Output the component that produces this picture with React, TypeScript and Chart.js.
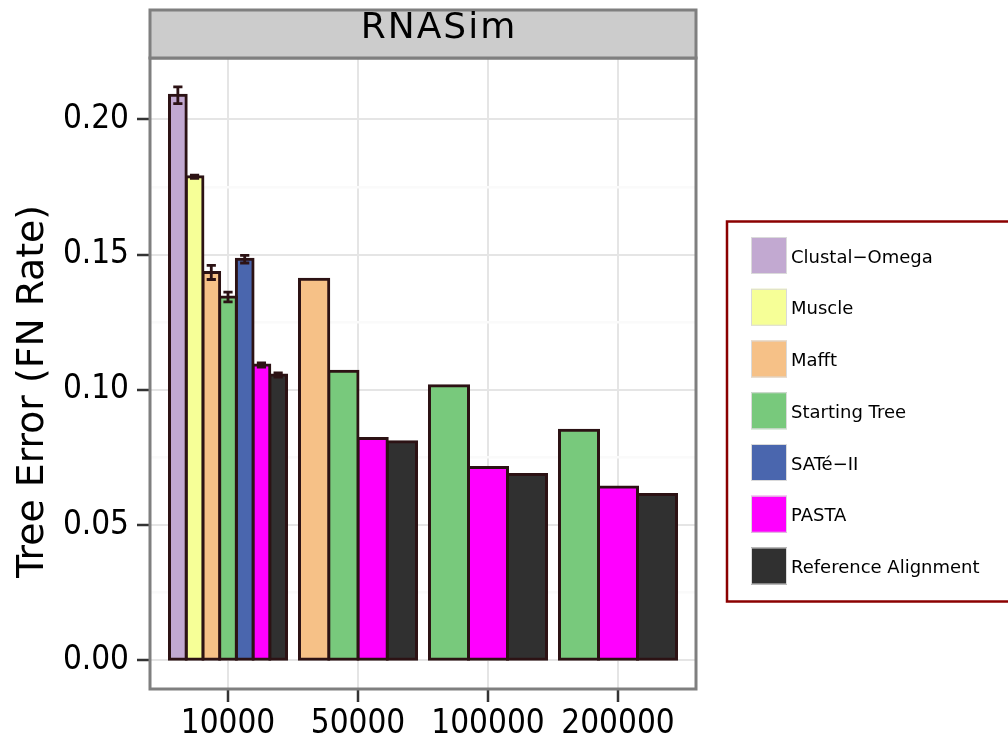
import React, { useEffect, useRef } from 'react';
import { Chart, registerables } from 'chart.js';

Chart.register(...registerables);

const FONT = "'DejaVu Sans', 'Bitstream Vera Sans', sans-serif";
const TICK_FONT = "'DejaVu Sans Condensed', 'DejaVu Sans', sans-serif";

const panelTitle = 'RNASim';
const yAxisTitle = 'Tree Error (FN Rate)';
const categories = ['10000', '50000', '100000', '200000'];
const methods = ['Clustal−Omega', 'Muscle', 'Mafft', 'Starting Tree', 'SATé−II', 'PASTA', 'Reference Alignment'];
const colors = ['#C2A9D1', '#F6FF97', '#F6C187', '#78C97C', '#4A66AE', '#FF00FF', '#303030'];

const clustalOmega = [0.2089, null, null, null];
const muscle = [0.1788, null, null, null];
const mafft = [0.1434, 0.1409, null, null];
const startingTree = [0.1343, 0.1069, 0.1015, 0.0851];
const sateII = [0.1483, null, null, null];
const pasta = [0.1092, 0.082, 0.0713, 0.0641];
const referenceAlignment = [0.1055, 0.0808, 0.0687, 0.0613];

const clustalOmegaErr = [0.0031, null, null, null];
const muscleErr = [0.0006, null, null, null];
const mafftErr = [0.0026, null, null, null];
const startingTreeErr = [0.0018, null, null, null];
const sateIIErr = [0.0014, null, null, null];
const pastaErr = [0.0008, null, null, null];
const referenceAlignmentErr = [0.0008, null, null, null];

const yMajorTicks = [0, 0.05, 0.1, 0.15, 0.2];
const yMajorLabels = ['0.00', '0.05', '0.10', '0.15', '0.20'];
const yMinorTicks = [0.025, 0.075, 0.125, 0.175];
const yMin = -0.0106;
const yMax = 0.2227;
const xMin = 0.4;
const xMax = 4.6;

const series = [clustalOmega, muscle, mafft, startingTree, sateII, pasta, referenceAlignment];
const seriesErr = [clustalOmegaErr, muscleErr, mafftErr, startingTreeErr, sateIIErr, pastaErr, referenceAlignmentErr];

const OUTLINE = '#2C1214';

const decorPlugin = {
  id: 'decor',
  afterDatasetsDraw(chart: any) {
    const ctx = chart.ctx;
    const yScale = chart.scales.y;
    ctx.save();
    ctx.strokeStyle = OUTLINE;
    ctx.lineWidth = 2.8;
    chart.data.datasets.forEach((ds: any, i: number) => {
      const meta = chart.getDatasetMeta(i);
      (ds.errors || []).forEach((e: number | null, j: number) => {
        const pt = ds.data[j];
        if (e == null || pt == null || pt.y == null) return;
        const bar = meta.data[j];
        if (!bar) return;
        const { x, width } = bar.getProps(['x', 'width'], true);
        const yHi = yScale.getPixelForValue(pt.y + e);
        const yLo = yScale.getPixelForValue(pt.y - e);
        const hw = (width * 0.55) / 2;
        ctx.beginPath();
        ctx.moveTo(x, yHi);
        ctx.lineTo(x, yLo);
        ctx.moveTo(x - hw, yHi);
        ctx.lineTo(x + hw, yHi);
        ctx.moveTo(x - hw, yLo);
        ctx.lineTo(x + hw, yLo);
        ctx.stroke();
      });
    });
    ctx.restore();
  },
  afterDraw(chart: any) {
    const ctx = chart.ctx;
    const ca = chart.chartArea;
    ctx.save();
    // panel border
    ctx.strokeStyle = '#7F7F7F';
    ctx.lineWidth = 3;
    ctx.strokeRect(ca.left, ca.top, ca.right - ca.left, ca.bottom - ca.top);
    // strip
    const stripTop = 10;
    ctx.fillStyle = '#CCCCCC';
    ctx.fillRect(ca.left, stripTop, ca.right - ca.left, ca.top - stripTop);
    ctx.strokeRect(ca.left, stripTop, ca.right - ca.left, ca.top - stripTop);
    ctx.fillStyle = '#000000';
    ctx.font = `36px ${FONT}`;
    try { (ctx as any).letterSpacing = '2px'; } catch (e) {}
    ctx.textAlign = 'center';
    ctx.textBaseline = 'alphabetic';
    ctx.fillText(panelTitle, 439, 37.5);
    try { (ctx as any).letterSpacing = '0px'; } catch (e) {}

    // y axis title
    ctx.save();
    ctx.translate(43, 578);
    ctx.rotate(-Math.PI / 2);
    ctx.font = `37.8px ${FONT}`;
    ctx.textAlign = 'left';
    ctx.textBaseline = 'alphabetic';
    ctx.fillStyle = '#000000';
    ctx.fillText(yAxisTitle, 0, 0);
    ctx.restore();

    // legend
    const lgLeft = 727;
    const lgTop = 221.5;
    const lgBottom = 601.5;
    ctx.fillStyle = '#FFFFFF';
    ctx.fillRect(lgLeft, lgTop, 1020 - lgLeft, lgBottom - lgTop);
    ctx.strokeStyle = '#8B0000';
    ctx.lineWidth = 2.5;
    ctx.strokeRect(lgLeft, lgTop, 1020 - lgLeft, lgBottom - lgTop);
    const keyX = 751;
    const keyTop = 237;
    const keyW = 36;
    const keyH = 37;
    const pitch = 51.75;
    ctx.font = `18px ${FONT}`;
    ctx.textAlign = 'left';
    ctx.textBaseline = 'alphabetic';
    chart.data.datasets.forEach((ds: any, i: number) => {
      const y = keyTop + i * pitch;
      ctx.fillStyle = ds.backgroundColor;
      ctx.fillRect(keyX, y, keyW, keyH);
      ctx.strokeStyle = '#DADADA';
      ctx.lineWidth = 1;
      ctx.strokeRect(keyX + 0.5, y + 0.5, keyW - 1, keyH - 1);
      ctx.fillStyle = '#000000';
      ctx.fillText(ds.label, 791, y + keyH / 2 + 7);
    });
    ctx.restore();
  },
};

export default function App() {
  const ref = useRef<HTMLCanvasElement>(null);
  useEffect(() => {
    if (!ref.current) return;
    Chart.defaults.font.family = FONT;
    const datasets = series.map((vals, k) => ({
      label: methods[k],
      data: vals.map((v, i) => ({ x: i + 1, y: v })),
      errors: seriesErr[k],
      backgroundColor: colors[k],
      borderColor: OUTLINE,
      borderWidth: 3,
      borderSkipped: false,
      inflateAmount: 1.5,
      categoryPercentage: 0.9,
      barPercentage: 1,
      skipNull: true,
    }));
    const chart = new Chart(ref.current, {
      type: 'bar',
      data: { datasets } as any,
      plugins: [decorPlugin],
      options: {
        animation: false,
        responsive: false,
        devicePixelRatio: 1,
        layout: { padding: { left: 0, top: 58, right: 312, bottom: 0 } },
        plugins: { legend: { display: false }, tooltip: { enabled: false }, title: { display: false } },
        scales: {
          x: {
            type: 'linear',
            min: xMin,
            max: xMax,
            offset: false,
            bounds: 'data',
            afterBuildTicks: (s: any) => {
              s.ticks = categories.map((_, i) => ({ value: i + 1 }));
            },
            afterFit: (s: any) => {
              s.height = 51;
            },
            ticks: {
              callback: (v: any) => categories[Math.round(v) - 1] ?? '',
              font: { size: 33, family: TICK_FONT },
              color: '#000000',
              padding: 3,
              maxRotation: 0,
              autoSkip: false,
              includeBounds: false,
            },
            grid: {
              offset: false,
              color: '#E5E5E5',
              lineWidth: 2,
              tickColor: '#333333',
              tickWidth: 2.5,
              tickLength: 13,
            },
            border: { display: false },
          },
          y: {
            type: 'linear',
            min: yMin,
            max: yMax,
            bounds: 'data',
            afterBuildTicks: (s: any) => {
              s.ticks = [...yMajorTicks, ...yMinorTicks].sort((a, b) => a - b).map((v) => ({ value: v }));
            },
            afterFit: (s: any) => {
              s.width = 150;
            },
            ticks: {
              callback: (v: any) => {
                const k = yMajorTicks.indexOf(v);
                return k >= 0 ? yMajorLabels[k] : '';
              },
              font: { size: 33, family: TICK_FONT },
              color: '#000000',
              padding: 8,
              autoSkip: false,
              includeBounds: false,
            },
            grid: {
              color: (c: any) => (c.tick && yMajorTicks.includes(c.tick.value) ? '#E5E5E5' : '#FAFAFA'),
              lineWidth: (c: any) => (c.tick && yMajorTicks.includes(c.tick.value) ? 2 : 2.5),
              tickColor: (c: any) => (c.tick && yMajorTicks.includes(c.tick.value) ? '#333333' : 'rgba(0,0,0,0)'),
              tickWidth: 2.5,
              tickLength: 13,
            },
            border: { display: false },
          },
        },
      } as any,
    });
    return () => chart.destroy();
  }, []);
  return (
    <div style={{ position: 'absolute', left: 0, top: 0, width: 1008, height: 740, background: '#FFFFFF' }}>
      <canvas ref={ref} width={1008} height={740} style={{ width: 1008, height: 740, display: 'block' }} />
    </div>
  );
}
